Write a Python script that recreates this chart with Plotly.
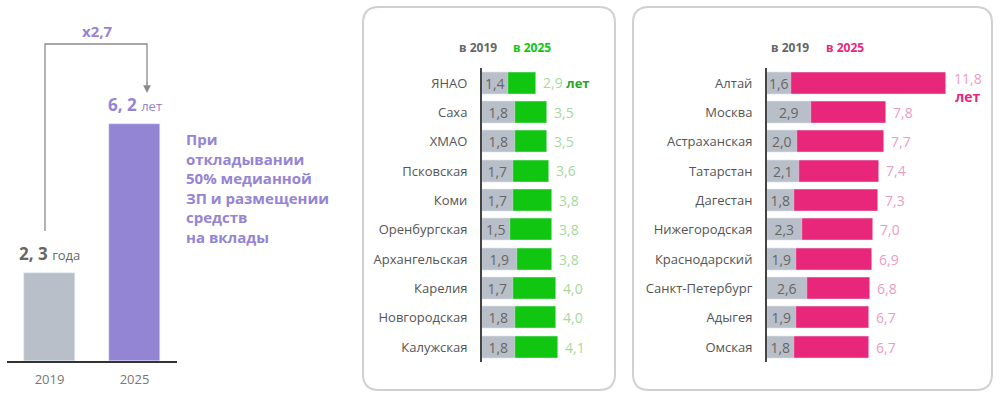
import plotly.graph_objects as go

W, H = 1000, 398

# ---------- data ----------
left_years = ["2019", "2025"]
left_values = [2.3, 6.2]
left_labels = ["<b>2, 3</b> <span style='font-size:13px'>года</span>",
               "<b>6, 2</b> <span style='font-size:13px'>лет</span>"]
growth_label = "x2,7"
note_text = "При<br>откладывании<br>50% медианной<br>ЗП и размещении<br>средств<br>на вклады"

mid_regions = ["ЯНАО", "Саха", "ХМАО", "Псковская", "Коми", "Оренбургская",
               "Архангельская", "Карелия", "Новгородская", "Калужская"]
mid_2019 = [1.4, 1.8, 1.8, 1.7, 1.7, 1.5, 1.9, 1.7, 1.8, 1.8]
mid_2025 = [2.9, 3.5, 3.5, 3.6, 3.8, 3.8, 3.8, 4.0, 4.0, 4.1]

right_regions = ["Алтай", "Москва", "Астраханская", "Татарстан", "Дагестан",
                 "Нижегородская", "Краснодарский", "Санкт-Петербург", "Адыгея", "Омская"]
right_2019 = [1.6, 2.9, 2.0, 2.1, 1.8, 2.3, 1.9, 2.6, 1.9, 1.8]
right_2025 = [11.8, 7.8, 7.7, 7.4, 7.3, 7.0, 6.9, 6.8, 6.7, 6.7]

# ---------- style ----------
FONT = "Open Sans"
GRAY_BAR = "#b9bfc8"
GREEN = "#10c610"
GREEN_LIGHT = "#a6d99c"
GREEN_DARK = "#2aa52a"
PINK = "#e8277b"
PINK_LIGHT = "#eb9cc2"
PURPLE = "#9484d4"
TXT = "#555555"

def fmt(v):
    return f"{v:.1f}".replace(".", ",")

def px(x):
    return x / W

def py(y):
    return 1 - y / H

fig = go.Figure()

# ---------- left chart ----------
fig.add_trace(go.Bar(x=left_years, y=left_values, marker_color=[GRAY_BAR, PURPLE],
                     width=0.61, xaxis="x", yaxis="y", showlegend=False,
                     hoverinfo="skip"))

# ---------- middle chart ----------
fig.add_trace(go.Bar(y=mid_regions, x=mid_2025, orientation="h", marker_color=GREEN,
                     width=0.75, xaxis="x2", yaxis="y2", showlegend=False, hoverinfo="skip"))
fig.add_trace(go.Bar(y=mid_regions, x=mid_2019, orientation="h", marker_color=GRAY_BAR,
                     width=0.75, xaxis="x2", yaxis="y2", showlegend=False, hoverinfo="skip",
                     text=[fmt(v) for v in mid_2019], textposition="inside",
                     insidetextanchor="middle", constraintext="none",
                     textfont=dict(family=FONT, size=14, color="#666666")))

# ---------- right chart ----------
fig.add_trace(go.Bar(y=right_regions, x=right_2025, orientation="h", marker_color=PINK,
                     width=0.75, xaxis="x3", yaxis="y3", showlegend=False, hoverinfo="skip"))
fig.add_trace(go.Bar(y=right_regions, x=right_2019, orientation="h", marker_color=GRAY_BAR,
                     width=0.75, xaxis="x3", yaxis="y3", showlegend=False, hoverinfo="skip",
                     text=[fmt(v) for v in right_2019], textposition="inside",
                     insidetextanchor="middle", constraintext="none",
                     textfont=dict(family=FONT, size=14, color="#666666")))

annotations = []
shapes = []

# left bar labels
for i, (v, lab, col) in enumerate(zip(left_values, left_labels, ["#666666", PURPLE])):
    annotations.append(dict(x=i, y=v, xref="x", yref="y", text=lab, showarrow=False,
                            xanchor="center", yanchor="bottom", yshift=6,
                            font=dict(family=FONT, size=17, color=col)))

# bracket + arrow
shapes.append(dict(type="path", xref="paper", yref="paper",
                   path=f"M {px(45)},{py(231)} L {px(45)},{py(44)} L {px(147)},{py(44)} L {px(147)},{py(84)}",
                   line=dict(color="#8a8a8a", width=1.3)))
annotations.append(dict(x=px(147), y=py(93), xref="paper", yref="paper", text="",
                        showarrow=True, ax=0, ay=-12, arrowhead=2, arrowsize=1.2,
                        arrowwidth=1.3, arrowcolor="#8a8a8a"))
annotations.append(dict(x=px(97), y=py(31), xref="paper", yref="paper",
                        xanchor="center", yanchor="middle",
                        text=f"<b>{growth_label}</b>", showarrow=False,
                        font=dict(family=FONT, size=15, color=PURPLE)))
annotations.append(dict(x=px(184), y=py(127), xref="paper", yref="paper",
                        text=f"<b>{note_text}</b>", showarrow=False, align="left",
                        xanchor="left", yanchor="top",
                        font=dict(family=FONT, size=15, color=PURPLE)))

# panel boxes
def rounded(x0, y0, x1, y1, r):
    return (f"M {px(x0 + r)},{py(y0)} L {px(x1 - r)},{py(y0)} "
            f"Q {px(x1)},{py(y0)} {px(x1)},{py(y0 + r)} L {px(x1)},{py(y1 - r)} "
            f"Q {px(x1)},{py(y1)} {px(x1 - r)},{py(y1)} L {px(x0 + r)},{py(y1)} "
            f"Q {px(x0)},{py(y1)} {px(x0)},{py(y1 - r)} L {px(x0)},{py(y0 + r)} "
            f"Q {px(x0)},{py(y0)} {px(x0 + r)},{py(y0)} Z")

for (x0, x1) in [(363, 615), (633, 992)]:
    shapes.append(dict(type="path", xref="paper", yref="paper", path=rounded(x0, 7, x1, 390, 16),
                       line=dict(color="#d0d0d0", width=2), layer="below"))

# headers
for xc, txt, col in [(478, "в 2019", "#666666"), (532, "в 2025", GREEN),
                     (790, "в 2019", "#666666"), (845, "в 2025", PINK)]:
    annotations.append(dict(x=px(xc), y=py(47), xref="paper", yref="paper",
                            xanchor="center", yanchor="middle",
                            text=f"<b>{txt}</b>", showarrow=False,
                            font=dict(family=FONT, size=12, color=col)))

# 2025 value labels
for i, (reg, v) in enumerate(zip(mid_regions, mid_2025)):
    t = fmt(v)
    if i == 0:
        t += f" <span style='color:{GREEN_DARK};font-size:13px'><b>лет</b></span>"
    annotations.append(dict(x=v, y=reg, xref="x2", yref="y2", text=t, showarrow=False,
                            xanchor="left", yanchor="middle", xshift=5,
                            font=dict(family=FONT, size=14, color=GREEN_LIGHT)))
for i, (reg, v) in enumerate(zip(right_regions, right_2025)):
    if i == 0:
        annotations.append(dict(x=v, y=reg, xref="x3", yref="y3",
                                text=f"{fmt(v)}<br><span style='color:{PINK}'><b>лет</b></span>",
                                showarrow=False, xanchor="left", yanchor="middle",
                                xshift=6, yshift=-5, align="center",
                                font=dict(family=FONT, size=14, color=PINK_LIGHT)))
    else:
        annotations.append(dict(x=v, y=reg, xref="x3", yref="y3", text=fmt(v), showarrow=False,
                                xanchor="left", yanchor="middle", xshift=5,
                                font=dict(family=FONT, size=14, color=PINK_LIGHT)))

ydom = [py(361.7), py(68.3)]

fig.update_layout(
    width=W, height=H, margin=dict(l=0, r=0, t=0, b=0),
    paper_bgcolor="white", plot_bgcolor="rgba(0,0,0,0)",
    barmode="overlay", bargap=0,
    font=dict(family=FONT, color=TXT),
    xaxis=dict(type="category", domain=[px(7), px(177)], range=[-0.5, 1.5], showgrid=False,
               zeroline=False, showline=True, linecolor="#333333", linewidth=1.5, ticks="",
               tickfont=dict(family=FONT, size=13, color="#777777"), ticklabelstandoff=6,
               fixedrange=True),
    yaxis=dict(domain=[py(361), 1], range=[0, (361) / 38.3], visible=False, fixedrange=True),
    xaxis2=dict(domain=[px(482), px(602)], range=[0, 120 / 18.5], visible=False, fixedrange=True),
    yaxis2=dict(domain=ydom, range=[9.5, -0.5], anchor="x2", showgrid=False, zeroline=False,
                showline=True, linecolor="#444444", linewidth=2, ticks="",
                ticklabelstandoff=10, tickfont=dict(family=FONT, size=13, color=TXT),
                fixedrange=True),
    xaxis3=dict(domain=[px(767), px(980)], range=[0, 213 / 15.2], visible=False, fixedrange=True),
    yaxis3=dict(domain=ydom, range=[9.5, -0.5], anchor="x3", showgrid=False, zeroline=False,
                showline=True, linecolor="#444444", linewidth=2, ticks="",
                ticklabelstandoff=10, tickfont=dict(family=FONT, size=13, color=TXT),
                fixedrange=True),
    annotations=annotations, shapes=shapes,
)

fig.write_html("out.html", config={"displayModeBar": False},
               post_script="document.body.style.margin='0px';document.body.style.overflow='hidden';")
